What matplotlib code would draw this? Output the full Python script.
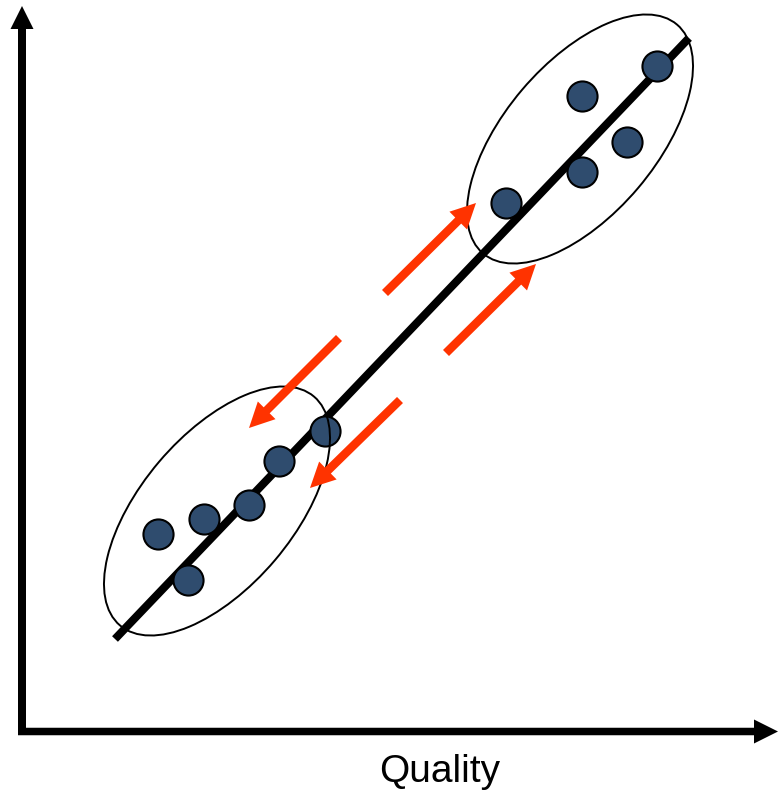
import numpy as np
import matplotlib.pyplot as plt
from matplotlib.patches import Ellipse

# everything in pixel units of the 783x799 canvas (y pointing down)
fit_x = [115, 689]
fit_y = [639, 38]

low_x = [158, 188, 204, 249, 279, 325]
low_y = [534, 580, 519, 505, 461, 431]

high_x = [506, 582, 582, 627, 657]
high_y = [203, 96, 172, 142, 66]

cluster_cx = [217, 580]
cluster_cy = [511, 139]

# red arrows: tail -> tip
arrow_tail = [(385, 293), (446, 353), (339, 338), (400, 400)]
arrow_tip = [(476, 203), (536, 264), (249, 428), (310, 488)]

x_label = 'Quality'

fig = plt.figure(figsize=(7.83, 7.99), dpi=100)
ax = fig.add_axes([0, 0, 1, 1])
ax.set_xlim(0, 783)
ax.set_ylim(799, 0)
ax.axis('off')

# axes drawn as thick arrows
ax.arrow(22, 735, 0, -729, width=8, head_width=23, head_length=23,
         length_includes_head=True, color='black', lw=0)
ax.arrow(18, 731.5, 760, 0, width=7.5, head_width=24, head_length=24,
         length_includes_head=True, color='black', lw=0)

# regression line
ax.plot(fit_x, fit_y, color='black', lw=5.8, solid_capstyle='butt', zorder=2)

# clusters
for cx, cy in zip(cluster_cx, cluster_cy):
    ax.add_patch(Ellipse((cx, cy), 300, 152, angle=-49.7, fill=False,
                         edgecolor='black', lw=1.4, zorder=4))

ax.scatter(low_x + high_x, low_y + high_y, s=470, color='#2F4C6E',
           edgecolors='black', linewidths=1.5, zorder=3)

for (x0, y0), (x1, y1) in zip(arrow_tail, arrow_tip):
    ax.arrow(x0, y0, x1 - x0, y1 - y0, width=8.5, head_width=25, head_length=25,
             length_includes_head=True, color='#FF3300', lw=0, zorder=5)

ax.text(440, 782, x_label, ha='center', va='baseline', fontsize=28,
        family='Liberation Sans')

fig.savefig('out.png', dpi=100)
